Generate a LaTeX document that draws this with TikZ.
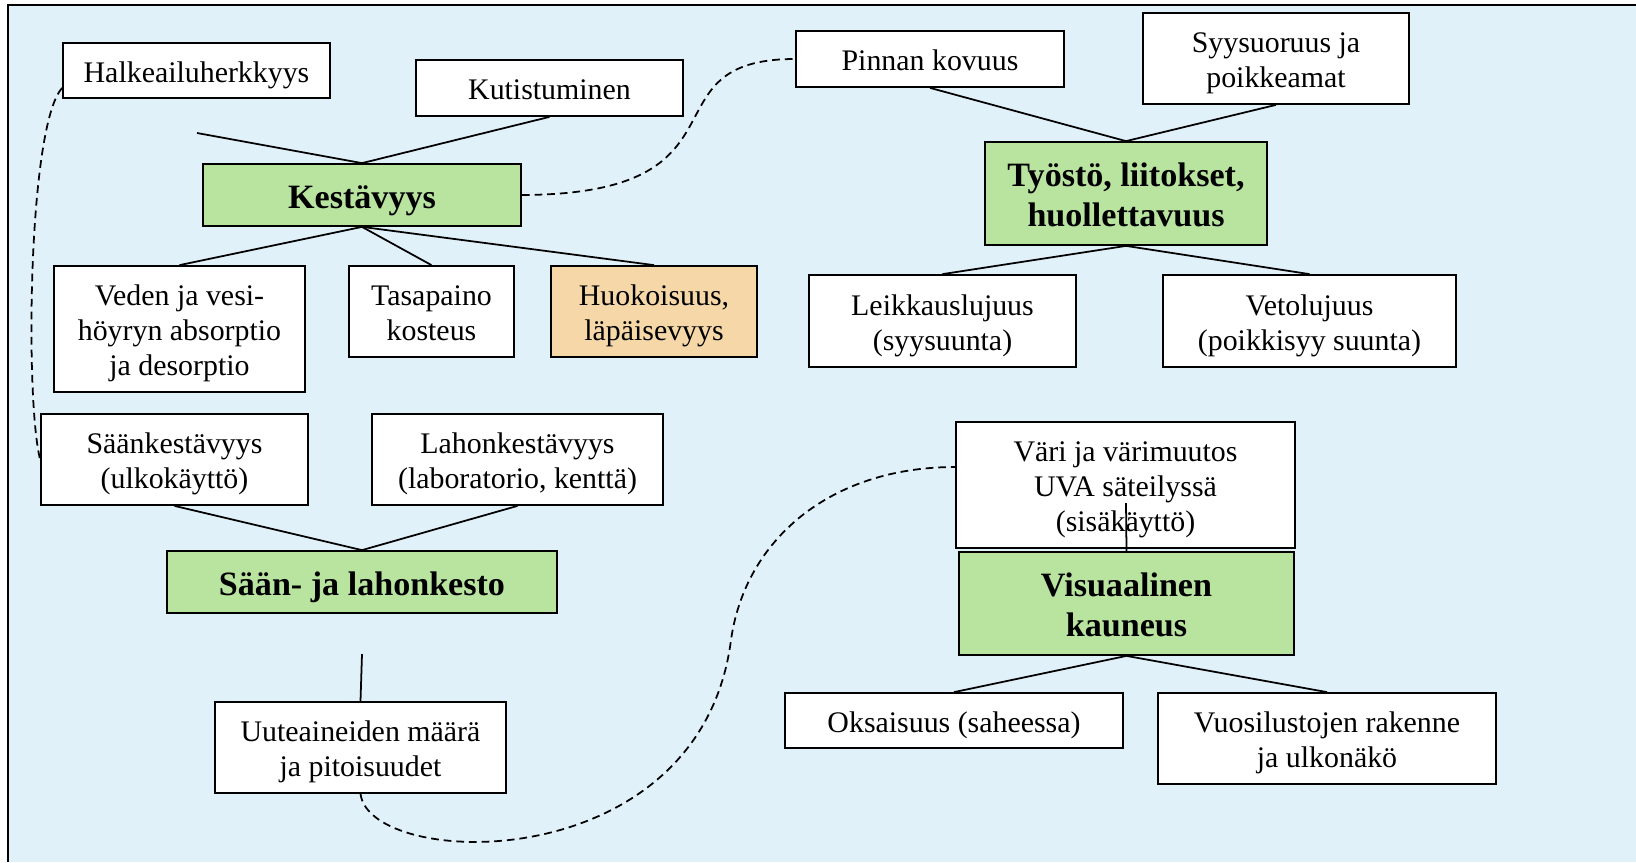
\documentclass[tikz,border=0pt]{standalone}
\usepackage{fontspec}
\setmainfont{Liberation Serif}
\usepackage{tikz}
\usetikzlibrary{positioning}

\definecolor{bgblue}{RGB}{224,241,250}
\definecolor{titlegreen}{RGB}{184,228,160}
\definecolor{sand}{RGB}{246,216,168}

\newcommand\lift{\rule{0pt}{1em}}

\begin{document}
\begin{tikzpicture}[
  x=0.1mm, y=-0.1mm,
  font=\fontsize{8.5}{10}\selectfont,
  box/.style={draw, line width=0.5pt, fill=white, inner sep=0pt, align=center,
    execute at begin node={\rule[-0.22em]{0pt}{1.22em}}},
  title/.style={box, fill=titlegreen, font=\fontsize{9.7}{11.4}\selectfont\bfseries},
  dim/.style 2 args={minimum width=#1*0.1mm, minimum height=#2*0.1mm},
  link/.style={line width=0.5pt},
  loose/.style={line width=0.5pt, dash pattern=on 2.2pt off 1.4pt},
]
  \useasboundingbox (0,0) rectangle (1636,862);
  \fill[bgblue] (8,5) rectangle (1636,862);
  \draw[line width=0.7pt] (1636,5) -- (8,5) -- (8,862);

  % Kestävyys
  \node[title, dim={318}{62}] (kest) at (362,195) {Kestävyys};
  \node[box, dim={267}{55}] (halk) at (196.5,70.5) {Halkeailuherkkyys};
  \node[box, dim={267}{56}] (kutis) at (549.5,88) {Kutistuminen};
  \node[box, dim={251}{126}] (veden) at (179.5,329) {\lift Veden ja vesi-\\höyryn absorptio\\ja desorptio};
  \node[box, dim={165}{91}] (tasa) at (431.5,311.5) {\lift Tasapaino\\kosteus};
  \node[box, fill=sand, dim={206}{91}] (huok) at (654,311.5) {\lift Huokoisuus,\\läpäisevyys};

  % Työstö
  \node[title, dim={282}{103}] (tyosto) at (1126,193.5) {\lift Työstö, liitokset,\\huollettavuus};
  \node[box, dim={268}{56}] (pinnan) at (930,59) {Pinnan kovuus};
  \node[box, dim={266}{91}] (syys) at (1276,58.5) {\lift Syysuoruus ja\\poikkeamat};
  \node[box, dim={267}{92}] (leik) at (942.5,321) {\lift Leikkauslujuus\\(syysuunta)};
  \node[box, dim={293}{92}] (veto) at (1309.5,321) {\lift Vetolujuus\\(poikkisyy suunta)};

  % Sään- ja lahonkesto
  \node[title, dim={390}{62}] (saan) at (362,582) {Sään- ja lahonkesto};
  \node[box, dim={267}{91}] (saank) at (174.5,459.5) {\lift Säänkestävyys\\(ulkokäyttö)};
  \node[box, dim={291}{91}] (lahon) at (517.5,459.5) {\lift Lahonkestävyys\\(laboratorio, kenttä)};
  \node[box, dim={291}{91}] (uute) at (360.5,747.5) {\lift Uuteaineiden määrä\\ja pitoisuudet};

  % Visuaalinen kauneus
  \node[box, dim={339}{126}] (vari) at (1125.5,485) {\lift Väri ja värimuutos\\UVA säteilyssä\\(sisäkäyttö)};
  \node[title, dim={335}{103}] (visu) at (1126.5,603.5) {\lift Visuaalinen\\kauneus};
  \node[box, dim={338}{55}] (oks) at (954,720.5) {Oksaisuus (saheessa)};
  \node[box, dim={338}{91}] (vuosi) at (1327,738.5) {\lift Vuosilustojen rakenne\\ja ulkonäkö};

  \coordinate (kestfree) at (197,133);
  \coordinate (saanfree) at (362,654);
  \coordinate (visufree) at (1126,503);

  \draw[link] (kestfree) -- (kest.north);
  \draw[link] (kutis.south) -- (kest.north);
  \draw[link] (kest.south) -- (veden.north);
  \draw[link] (kest.south) -- (tasa.north);
  \draw[link] (kest.south) -- (huok.north);
  \draw[link] (pinnan.south) -- (tyosto.north);
  \draw[link] (syys.south) -- (tyosto.north);
  \draw[link] (tyosto.south) -- (leik.north);
  \draw[link] (tyosto.south) -- (veto.north);
  \draw[link] (saank.south) -- (saan.north);
  \draw[link] (lahon.south) -- (saan.north);
  \draw[link] (saanfree) -- (uute.north);
  \draw[link] (visu.north) -- (visufree);
  \draw[link] (visu.south) -- (oks.north);
  \draw[link] (visu.south) -- (vuosi.north);

  \draw[loose] ([yshift=-1.75mm]halk.west) .. controls (28,125) and (25,400) .. (saank.west);
  \draw[loose] (kest.east) .. controls (760,194) and (640,59) .. (pinnan.west);
  \draw[loose] (uute.south) .. controls (370,870) and (700,880) .. (731,640)
    .. controls (745,540) and (830,467) .. ([yshift=1.8mm]vari.west);
\end{tikzpicture}
\end{document}
